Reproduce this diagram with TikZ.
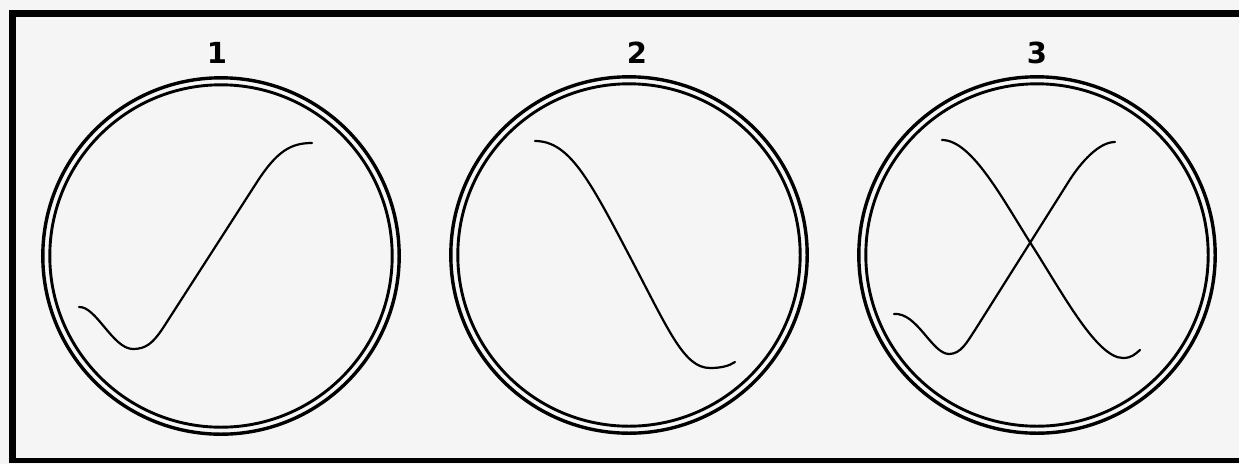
\documentclass[tikz,border=0pt]{standalone}
\usepackage{fontspec}
\setsansfont{DejaVu Sans}
\usetikzlibrary{calc}

\begin{document}
\begin{tikzpicture}[
    x=1pt, y=-1pt,
    font=\sffamily\bfseries\fontsize{29}{29}\selectfont,
    ring/.style={draw, line width=3.4pt},
    trace/.style={draw, line width=2.2pt, line cap=round, line join=round},
  ]
  \fill[black!4] (0,0) rectangle (1239,464);
  \useasboundingbox (0,0) rectangle (1239,464);

  % frame, open at the right
  \draw[line width=7.5pt] (1245,13.5) -- (12.5,13.5) -- (12.5,462);
  \draw[line width=5pt] (9,460) -- (1245,460);

  % the three screens with their numbers
  \foreach \i/\cx/\cy/\lx in {1/221/256/217, 2/629/255/637, 3/1037/255/1037} {
    \coordinate (s\i) at (\cx,\cy);
    \draw[ring] (s\i) circle[radius=178.2pt];
    \draw[ring, line width=2.9pt] (s\i) circle[radius=171.2pt];
    \node (n\i) at (\lx,53) {\i};
  }

  % traces
  \begin{scope}[shift={(s1)}]
    \draw[trace] (-142,51) .. controls (-125,50) and (-108,93) .. (-88,93)
      .. controls (-75,93) and (-68,87) .. (-58,72) -- (36,-74)
      .. controls (56,-105) and (70,-113) .. (91,-113);
  \end{scope}
  \begin{scope}[shift={(s2)}]
    \draw[trace] (-94,-114) .. controls (-60,-114) and (-40,-76) .. (0,0)
      .. controls (40,76) and (55,113) .. (81,113)
      .. controls (92,113) and (100,111) .. (106,107);
  \end{scope}
  \begin{scope}[shift={(s3)}]
    \draw[trace] (-95,-115) .. controls (-65,-115) and (-34,-55) .. (-4,-8)
      .. controls (26,39) and (60,103) .. (86,103)
      .. controls (95,103) and (98,99) .. (103,95);
    \draw[trace] (-143,59) .. controls (-120,57) and (-105,99) .. (-88,99)
      .. controls (-76,99) and (-70,87) .. (-62,75) -- (32,-74)
      .. controls (44,-93) and (62,-113) .. (78,-113);
  \end{scope}
\end{tikzpicture}
\end{document}
